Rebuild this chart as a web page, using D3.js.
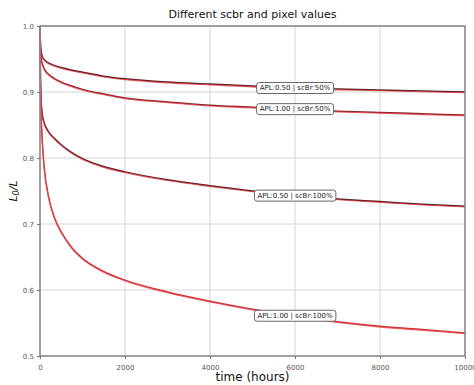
<!DOCTYPE html>
<html>
<head>
<meta charset="utf-8">
<script src="https://cdn.jsdelivr.net/npm/d3@7/dist/d3.min.js"></script>
<style>
  html, body { margin: 0; padding: 0; background: #fff; }
  svg { display: block; font-family: "DejaVu Sans", sans-serif; }
</style>
</head>
<body>
<svg id="chart" width="474" height="385"></svg>
<script>
// Time samples (hours)
const hours = [0, 10, 25, 50, 100, 200, 350, 500, 750, 1000, 1500, 2000, 3000, 4000, 5000, 6000, 7000, 8000, 9000, 10000];

// Relative luminance L0/L for each APL / scBr combination
const apl050_scbr050 = [1.0, 0.975, 0.963, 0.955, 0.949, 0.944, 0.940, 0.937, 0.933, 0.930, 0.924, 0.920, 0.915, 0.912, 0.909, 0.906, 0.9045, 0.903, 0.9015, 0.900];
const apl100_scbr050 = [1.0, 0.965, 0.952, 0.944, 0.935, 0.927, 0.920, 0.915, 0.909, 0.904, 0.897, 0.891, 0.885, 0.880, 0.877, 0.874, 0.871, 0.869, 0.867, 0.865];
const apl050_scbr100 = [1.0, 0.930, 0.890, 0.868, 0.853, 0.840, 0.829, 0.820, 0.808, 0.799, 0.787, 0.779, 0.767, 0.758, 0.750, 0.743, 0.738, 0.734, 0.730, 0.727];
const apl100_scbr100 = [1.0, 0.915, 0.870, 0.830, 0.785, 0.742, 0.708, 0.688, 0.664, 0.648, 0.628, 0.615, 0.597, 0.583, 0.571, 0.561, 0.552, 0.545, 0.540, 0.535];

const seriesNames = ["APL:0.50 | scBr:50%", "APL:1.00 | scBr:50%", "APL:0.50 | scBr:100%", "APL:1.00 | scBr:100%"];
const seriesValues = [apl050_scbr050, apl100_scbr050, apl050_scbr100, apl100_scbr100];
const labelHour = 6000;

const xTicks = [0, 2000, 4000, 6000, 8000, 10000];
const yTicks = [0.5, 0.6, 0.7, 0.8, 0.9, 1.0];

const svg = d3.select("#chart");
const margin = { left: 40, right: 9, top: 26, bottom: 29 };
const W = 474, H = 385;

const x = d3.scaleLinear().domain([0, 10000]).range([margin.left, W - margin.right]);
const y = d3.scaleLinear().domain([0.5, 1.0]).range([H - margin.bottom, margin.top]);

// grid
svg.append("g")
  .selectAll("line").data(xTicks).join("line")
  .attr("x1", d => x(d)).attr("x2", d => x(d))
  .attr("y1", y(0.5)).attr("y2", y(1.0))
  .attr("stroke", "#d4d4d4").attr("stroke-width", 1);
svg.append("g")
  .selectAll("line").data(yTicks).join("line")
  .attr("x1", x(0)).attr("x2", x(10000))
  .attr("y1", d => y(d)).attr("y2", d => y(d))
  .attr("stroke", "#d4d4d4").attr("stroke-width", 1);

// degradation curves: dark measured trace with a red trace over it
const line = d3.line()
  .x((d, i) => x(hours[i]))
  .y(d => y(d))
  .curve(d3.curveMonotoneX);

const darkColors = ["#5b2229", "#8a2a30", "#5b2229", "#c8383f"];
const redColors = ["#e0343b", "#ee3a3f", "#e0343b", "#f03c40"];

const lines = svg.append("g");
seriesValues.forEach((vals, k) => {
  lines.append("path")
    .attr("d", line(vals))
    .attr("fill", "none")
    .attr("stroke", darkColors[k])
    .attr("stroke-width", 1.5);
  lines.append("path")
    .attr("d", line(vals))
    .attr("fill", "none")
    .attr("stroke", redColors[k])
    .attr("stroke-opacity", 0.75)
    .attr("stroke-width", 1.1)
    .attr("transform", "translate(0,0.8)");
});

// frame
svg.append("rect")
  .attr("x", x(0)).attr("y", y(1.0))
  .attr("width", x(10000) - x(0)).attr("height", y(0.5) - y(1.0))
  .attr("fill", "none").attr("stroke", "#8c8c8c").attr("stroke-width", 1.6);

// axes
const xAxis = d3.axisBottom(x).tickValues(xTicks).tickSize(3).tickFormat(d3.format("d"));
const yAxis = d3.axisLeft(y).tickValues(yTicks).tickSize(3).tickFormat(d3.format(".1f"));

const gx = svg.append("g").attr("transform", `translate(0,${y(0.5)})`).call(xAxis);
const gy = svg.append("g").attr("transform", `translate(${x(0)},0)`).call(yAxis);
[gx, gy].forEach(g => {
  g.select(".domain").remove();
  g.selectAll(".tick line").attr("stroke", "#777");
  g.selectAll(".tick text").attr("fill", "#555").attr("font-size", 7)
    .attr("font-family", "DejaVu Sans, sans-serif");
});
gx.selectAll(".tick text").attr("dy", "1.1em");

// value labels placed on each curve
const labels = svg.append("g");
seriesValues.forEach((vals, k) => {
  const v = vals[hours.indexOf(labelHour)];
  const cx = x(labelHour), cy = y(v);
  const t = labels.append("text")
    .attr("x", cx).attr("y", cy)
    .attr("text-anchor", "middle")
    .attr("dominant-baseline", "central")
    .attr("font-size", 7)
    .attr("fill", "#222")
    .text(seriesNames[k]);
  const bb = t.node().getBBox();
  labels.insert("rect", "text")
    .attr("x", bb.x - 3).attr("y", bb.y - 1.5)
    .attr("width", bb.width + 6).attr("height", bb.height + 3)
    .attr("rx", 2.5)
    .attr("fill", "#fff").attr("stroke", "#666").attr("stroke-width", 1);
});

// titles
svg.append("text")
  .attr("x", (x(0) + x(10000)) / 2).attr("y", 18)
  .attr("text-anchor", "middle").attr("font-size", 11).attr("fill", "#111")
  .text("Different scbr and pixel values");

svg.append("text")
  .attr("x", (x(0) + x(10000)) / 2).attr("y", 381)
  .attr("text-anchor", "middle").attr("font-size", 12).attr("fill", "#111")
  .text("time (hours)");

const yl = svg.append("text")
  .attr("transform", `translate(17,${(y(0.5) + y(1.0)) / 2}) rotate(-90)`)
  .attr("text-anchor", "middle").attr("font-size", 11).attr("fill", "#111")
  .attr("font-style", "italic");
yl.append("tspan").text("L");
yl.append("tspan").attr("font-size", 8).attr("dy", 2).text("0");
yl.append("tspan").attr("dy", -2).text("/L");
</script>
</body>
</html>
